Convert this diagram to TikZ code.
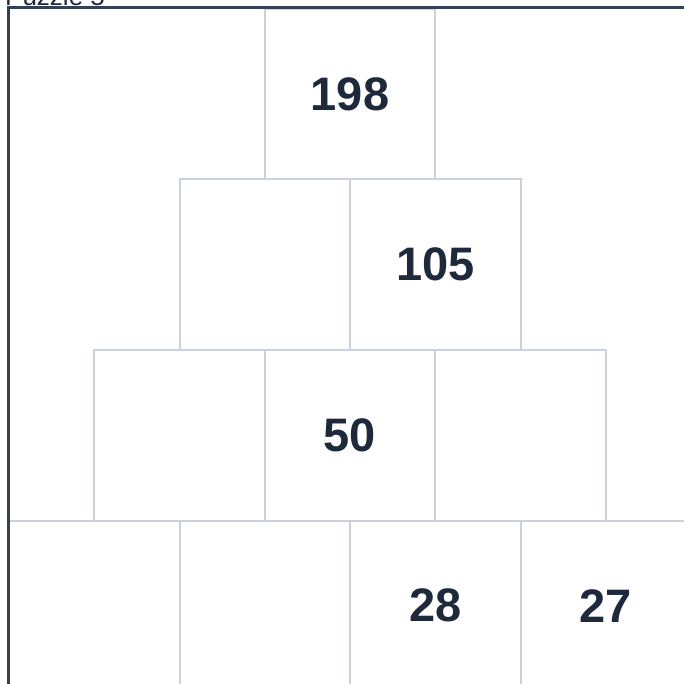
\documentclass[tikz,border=0pt]{standalone}
\usepackage{fontspec}
\setmainfont{Liberation Sans}
\definecolor{moldura}{HTML}{334155}
\definecolor{grade}{HTML}{CBD2DE}
\definecolor{texto}{HTML}{1E293B}
\tikzset{
  cel/.style={draw=grade, line width=2pt, minimum size=170.5pt, inner sep=0pt,
    anchor=north west, text=texto, font=\bfseries\fontsize{47}{47}\selectfont}
}
\begin{document}
\begin{tikzpicture}[x=1pt,y=-1pt]
\useasboundingbox (0,0) rectangle (684,684);
\clip (0,0) rectangle (684,684);
% titulo
\node[anchor=base west, inner sep=0pt, text=texto, font=\fontsize{26}{26}\selectfont] (titulo) at (5,6) {Puzzle 5};
% piramide
\foreach \r/\c/\v in {0/0/198, 1/0/, 1/1/105, 2/0/, 2/1/50, 2/2/, 3/0/, 3/1/, 3/2/28, 3/3/27}
  \node[cel] (c\r\c) at ({8+(3-\r)*85.25+\c*170.5},{8+\r*170.5}) {\v};
% moldura
\draw[moldura, line width=3pt] (8,700) -- (8,8) -- (700,8);
\end{tikzpicture}
\end{document}
